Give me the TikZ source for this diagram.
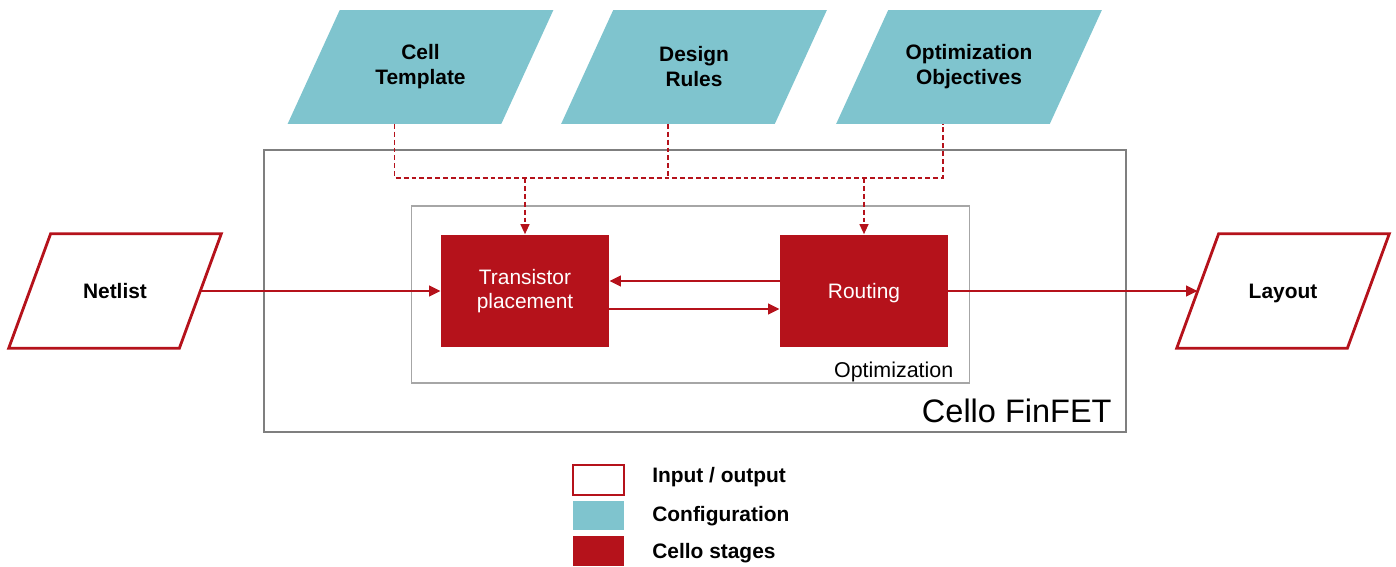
\documentclass[tikz,border=0pt]{standalone}
\usepackage{fontspec}
\setmainfont{Liberation Sans}
\usetikzlibrary{arrows.meta, backgrounds, positioning}
\definecolor{celloRed}{HTML}{B5121B}
\definecolor{configBlue}{HTML}{7FC4CE}
\definecolor{frameGray}{HTML}{7F7F7F}
\definecolor{innerGray}{HTML}{A6A6A6}

\begin{document}
\begin{tikzpicture}[x=0.02cm, y=-0.02cm,
  config/.style={rectangle, minimum width=4.26cm, minimum height=2.26cm, inner sep=0pt, align=center,
    font=\fontsize{11.9}{14.2}\selectfont\bfseries},
  inout/.style={rectangle, minimum width=3.4cm, minimum height=2.28cm, inner sep=0pt,
    text depth=0pt, font=\fontsize{11.9}{14.2}\selectfont\bfseries},
  stage/.style={rectangle, fill=celloRed, text=white, minimum width=3.36cm, minimum height=2.26cm,
    inner sep=0pt, align=center, font=\fontsize{11.9}{13.6}\selectfont},
  flow/.style={celloRed, line width=1.4pt, -{Triangle[length=2.3mm,width=2.1mm]}},
  cfg/.style={celloRed, line width=0.7pt, dash pattern=on 2.8pt off 1.7pt},
  key/.style={minimum width=1.02cm, minimum height=0.6cm, inner sep=0pt},
  keytext/.style={anchor=west, inner sep=0pt, font=\fontsize{11.9}{14.2}\selectfont\bfseries}]
  \useasboundingbox (0,0) rectangle (1396,567);

  % frames
  \node[draw=frameGray, line width=1.6pt, minimum width=17.24cm, minimum height=5.64cm, inner sep=0pt] (cello) at (695,291) {};
  \node[anchor=base east, font=\fontsize{18.5}{22}\selectfont] (celloname) at ([xshift=-0.19cm, yshift=0.22cm]cello.south east) {Cello FinFET};
  \node[draw=innerGray, line width=0.6pt, minimum width=11.18cm, minimum height=3.54cm, inner sep=0pt] (optim) at (690.5,294.5) {};
  \node[anchor=base east, font=\fontsize{12.2}{14}\selectfont] (optimname) at ([xshift=-0.22cm, yshift=0.12cm]optim.south east) {Optimization};

  % configuration
  \node[config] (cell) at (420.5,67) {Cell\\Template};
  \node[config] (rules) at (694,67) {Design\\Rules};
  \node[config] (objectives) at (969,67) {Optimization\\Objectives};

  % stages and input/output
  \node[inout] (netlist) at (115,291) {Netlist};
  \node[stage] (place) at (525,291) {Transistor\\placement};
  \node[stage, text depth=0pt] (routing) at (864,291) {Routing};
  \node[inout] (layout) at (1283,291) {Layout};

  % parallelograms behind the text
  \begin{scope}[on background layer]
    \foreach \n in {cell, rules, objectives}
      \fill[configBlue] ([xshift=-0.52cm]\n.south west) -- ([xshift=-0.52cm]\n.south east)
        -- ([xshift=0.52cm]\n.north east) -- ([xshift=0.52cm]\n.north west) -- cycle;
    \foreach \n in {netlist, layout}
      \draw[celloRed, line width=1.6pt, fill=white] ([xshift=-0.42cm]\n.south west) -- ([xshift=-0.42cm]\n.south east)
        -- ([xshift=0.42cm]\n.north east) -- ([xshift=0.42cm]\n.north west) -- cycle;
  \end{scope}

  \draw[flow] (netlist.east) -- (place.west);
  \draw[flow] ([yshift=0.2cm]routing.west) -- ([yshift=0.2cm]place.east);
  \draw[flow] ([yshift=-0.36cm]place.east) -- ([yshift=-0.36cm]routing.west);
  \draw[flow] (routing.east) -- (layout.west);

  % dashed feed from the configuration
  \coordinate (bus) at (0,178);
  \coordinate (cellfoot) at ([xshift=-0.52cm]cell.south);
  \coordinate (rulesfoot) at ([xshift=-0.52cm]rules.south);
  \coordinate (objfoot) at ([xshift=-0.52cm]objectives.south);
  \draw[cfg] (cellfoot) -- (cellfoot |- bus) -- (objfoot |- bus) -- (objfoot);
  \draw[cfg] (rulesfoot) -- (rulesfoot |- bus);
  \draw[cfg, -{Triangle[length=2mm,width=1.8mm]}] (place.north |- bus) -- (place.north);
  \draw[cfg, -{Triangle[length=2mm,width=1.8mm]}] (routing.north |- bus) -- (routing.north);

  % legend
  \node[key, draw=celloRed, line width=1.6pt, fill=white] (keyio) at (598.5,480) {};
  \node[key, fill=configBlue] (keyconf) at (598.5,515.5) {};
  \node[key, fill=celloRed] (keystage) at (598.5,551) {};
  \node[keytext] (keyiotext) at (652,477) {Input / output};
  \node[keytext] (keyconftext) at (652,516) {Configuration};
  \node[keytext] (keystagetext) at (652,553) {Cello stages};
\end{tikzpicture}
\end{document}
